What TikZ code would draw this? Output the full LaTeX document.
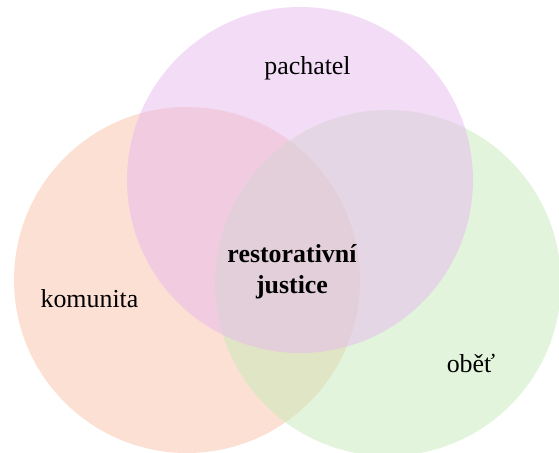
\documentclass[tikz,border=0pt]{standalone}
\usepackage{fontspec}
\setmainfont{Liberation Serif}
\definecolor{komColor}{RGB}{249,193,169}
\definecolor{obetColor}{RGB}{197,235,185}
\definecolor{pachColor}{RGB}{231,185,237}

\begin{document}
\begin{tikzpicture}[x=1bp, y=-1bp]
\useasboundingbox (0,0) rectangle (559,453);
\clip (0,0) rectangle (559,453);
\node[shape=circle, fill=komColor, fill opacity=0.5, minimum size=346bp, inner sep=0pt] (K) at (187,280) {};
\node[shape=circle, fill=obetColor, fill opacity=0.5, minimum size=346bp, inner sep=0pt] (O) at (388,283) {};
\node[shape=circle, fill=pachColor, fill opacity=0.5, minimum size=346bp, inner sep=0pt] (P) at (300,180) {};
\node[anchor=base, font=\fontsize{26}{31}\selectfont] (p) at (307.5,75) {pachatel};
\node[anchor=base, font=\fontsize{26}{31}\selectfont] (k) at (89.5,307) {komunita};
\node[anchor=base, font=\fontsize{26}{31}\selectfont] (o) at (471,372) {oběť};
\node[align=center, font=\fontsize{26}{31}\selectfont\bfseries] (rj) at (292,272) {restorativní\\justice};
\end{tikzpicture}
\end{document}
